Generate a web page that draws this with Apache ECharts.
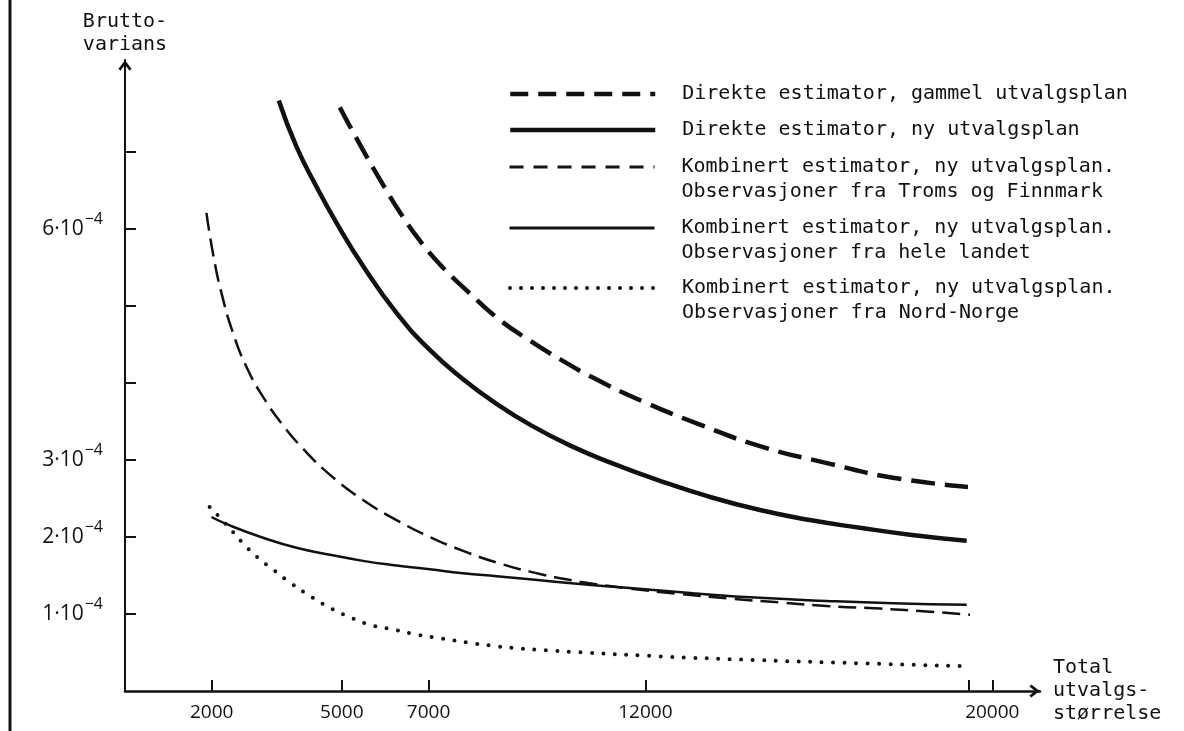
<!DOCTYPE html>
<html>
<head>
<meta charset="utf-8">
<script src="https://cdn.jsdelivr.net/npm/echarts@6.0.0/dist/echarts.min.js"></script>
<style>
  html, body { margin: 0; padding: 0; background: #fff; }
  #chart { width: 1184px; height: 731px; }
</style>
</head>
<body>
<div id="chart"></div>
<script>
// bruttovarians i enheter av 10^-4, utvalgsstørrelse langs x
const sizeGammel = [4953, 5483, 5945, 6406, 6867, 7329, 7882, 8574, 9336, 10028, 10789, 11943, 13258, 14642, 16187, 17709, 19439]
const varGammel = [7.58, 7.03, 6.58, 6.16, 5.80, 5.50, 5.20, 4.85, 4.55, 4.31, 4.07, 3.76, 3.46, 3.18, 2.96, 2.77, 2.65]

const sizeNy = [3546, 3954, 4415, 4877, 5490, 6261, 7029, 7797, 8567, 9336, 10258, 11181, 12334, 13487, 14641, 15794, 16948, 18101, 19409]
const varNy = [7.67, 7.07, 6.55, 6.08, 5.52, 4.91, 4.43, 4.05, 3.73, 3.46, 3.19, 2.97, 2.73, 2.52, 2.35, 2.22, 2.12, 2.03, 1.95]

const sizeTroms = [1878, 2030, 2224, 2491, 2800, 3183, 3645, 4185, 4722, 5490, 6261, 7029, 7797, 8567, 9336, 10489, 11644, 12797, 13950, 15104, 16257, 17411, 18564, 19486]
const varTroms = [6.21, 5.68, 5.17, 4.65, 4.21, 3.82, 3.45, 3.10, 2.81, 2.48, 2.22, 2.00, 1.82, 1.67, 1.55, 1.42, 1.33, 1.26, 1.20, 1.15, 1.10, 1.07, 1.03, 0.99]

const sizeHele = [1993, 2415, 3183, 3954, 4722, 5490, 6261, 7029, 7797, 8567, 9336, 10489, 11566, 13103, 14641, 16180, 17716, 19409]
const varHele = [2.26, 2.15, 1.99, 1.86, 1.77, 1.69, 1.63, 1.58, 1.53, 1.49, 1.45, 1.39, 1.34, 1.27, 1.21, 1.17, 1.14, 1.12]

const sizeNord = [1952, 2339, 2685, 3045, 3453, 3852, 4221, 4699, 5183, 5645, 6182, 6759, 7322, 7889, 8429, 8950, 9721, 10258, 12334, 14641, 16948, 19446]
const varNord = [2.39, 2.16, 1.94, 1.74, 1.56, 1.39, 1.25, 1.09, 0.96, 0.86, 0.80, 0.73, 0.68, 0.63, 0.59, 0.56, 0.53, 0.51, 0.45, 0.40, 0.36, 0.32]

const xTicks = [2000, 5000, 7000, 12000, 19450, 20000]
const xLabels = [2000, 5000, 7000, 12000, 20000]
const yTicks = [1, 2, 3, 4, 5, 6, 7]
const yLabels = [1, 2, 3, 6]

const names = [
  'Direkte estimator, gammel utvalgsplan',
  'Direkte estimator, ny utvalgsplan',
  'Kombinert estimator, ny utvalgsplan.\nObservasjoner fra Troms og Finnmark',
  'Kombinert estimator, ny utvalgsplan.\nObservasjoner fra hele landet',
  'Kombinert estimator, ny utvalgsplan.\nObservasjoner fra Nord-Norge'
]

const INK = '#111'
const MONO = '"DejaVu Sans Mono", "Liberation Mono", monospace'
const SANS = '"Open Sans", "DejaVu Sans", sans-serif'
const ARROW = 'path://M10,0 L20,13 L17,16 L10,7 L3,16 L0,13 Z'

const zip = (xs, ys) => xs.map((x, i) => [x, ys[i]])

const styles = [
  { width: 4.5, type: [24, 10] },
  { width: 4.5, type: 'solid' },
  { width: 2.5, type: [18, 8] },
  { width: 2.5, type: 'solid' },
  { width: 4, type: [0, 11.5], cap: 'round' }
]
const legendLines = [
  { width: 4.5, type: [18, 10] },
  { width: 4.5, type: 'solid' },
  { width: 3, type: [14, 10] },
  { width: 3, type: 'solid' },
  { width: 4, type: [0, 11], cap: 'round' }
]
const legendTops = [84, 120, 157, 218, 278]

const data = [
  zip(sizeGammel, varGammel),
  zip(sizeNy, varNy),
  zip(sizeTroms, varTroms),
  zip(sizeHele, varHele),
  zip(sizeNord, varNord)
]

let chart = echarts.init(document.getElementById('chart'))

chart.setOption({
  animation: false,
  backgroundColor: '#fff',
  grid: { left: 125, right: 144, top: 60, bottom: 40, outerBoundsMode: 'none' },
  legend: names.map((name, i) => ({
    data: [name],
    left: 508,
    top: legendTops[i],
    padding: 0,
    itemWidth: 145,
    itemHeight: 4,
    selectedMode: false,
    itemStyle: { opacity: 0 },
    lineStyle: Object.assign({ color: INK }, legendLines[i]),
    formatter: n => n.split('\n').map(s => '{t|' + s + '}').join('\n'),
    textStyle: {
      padding: name.indexOf('\n') > 0 ? [25, 0, 0, 22] : [0, 0, 0, 22],
      rich: { t: { fontFamily: MONO, fontSize: 20, lineHeight: 25, color: INK } }
    }
  })),
  xAxis: {
    type: 'value',
    min: 0,
    max: 21100,
    name: 'Total\nutvalgs-\nstørrelse',
    nameLocation: 'end',
    nameGap: 13,
    nameTextStyle: { fontFamily: MONO, fontSize: 20, lineHeight: 23, color: INK, align: 'left', verticalAlign: 'middle' },
    splitLine: { show: false },
    axisLine: {
      onZero: false,
      symbol: ['none', ARROW],
      symbolSize: [13, 11],
      symbolOffset: [0, -5.5],
      lineStyle: { color: INK, width: 2.5 }
    },
    axisTick: { customValues: xTicks, inside: true, length: 11, lineStyle: { color: INK, width: 2 } },
    axisLabel: {
      customValues: xLabels,
      margin: 12,
      fontFamily: SANS,
      fontSize: 19,
      color: INK,
      formatter: v => String(v)
    }
  },
  yAxis: {
    type: 'value',
    min: 0,
    max: 8.195,
    name: 'Brutto-\nvarians',
    nameLocation: 'end',
    nameGap: 4,
    nameTextStyle: { fontFamily: MONO, fontSize: 20, lineHeight: 23, color: INK },
    splitLine: { show: false },
    axisLine: {
      symbol: ['none', ARROW],
      symbolSize: [13, 11],
      symbolOffset: [0, -5.5],
      lineStyle: { color: INK, width: 2 }
    },
    axisTick: { customValues: yTicks, inside: true, length: 11, lineStyle: { color: INK, width: 2 } },
    axisLabel: {
      customValues: yLabels,
      margin: 22,
      formatter: v => '{b|' + v + '·10}{s|−4}',
      rich: {
        b: { fontFamily: SANS, fontSize: 21, color: INK },
        s: { fontFamily: SANS, fontSize: 16, color: INK, padding: [0, 0, 20, 1] }
      }
    }
  },
  graphic: [
    { type: 'rect', shape: { x: 8.5, y: 0, width: 3, height: 731 }, style: { fill: INK } }
  ],
  series: names.map((name, i) => ({
    name: name,
    type: 'line',
    data: data[i],
    smooth: 0.5,
    symbol: 'none',
    lineStyle: Object.assign({ color: INK }, styles[i])
  }))
})
</script>
</body>
</html>
